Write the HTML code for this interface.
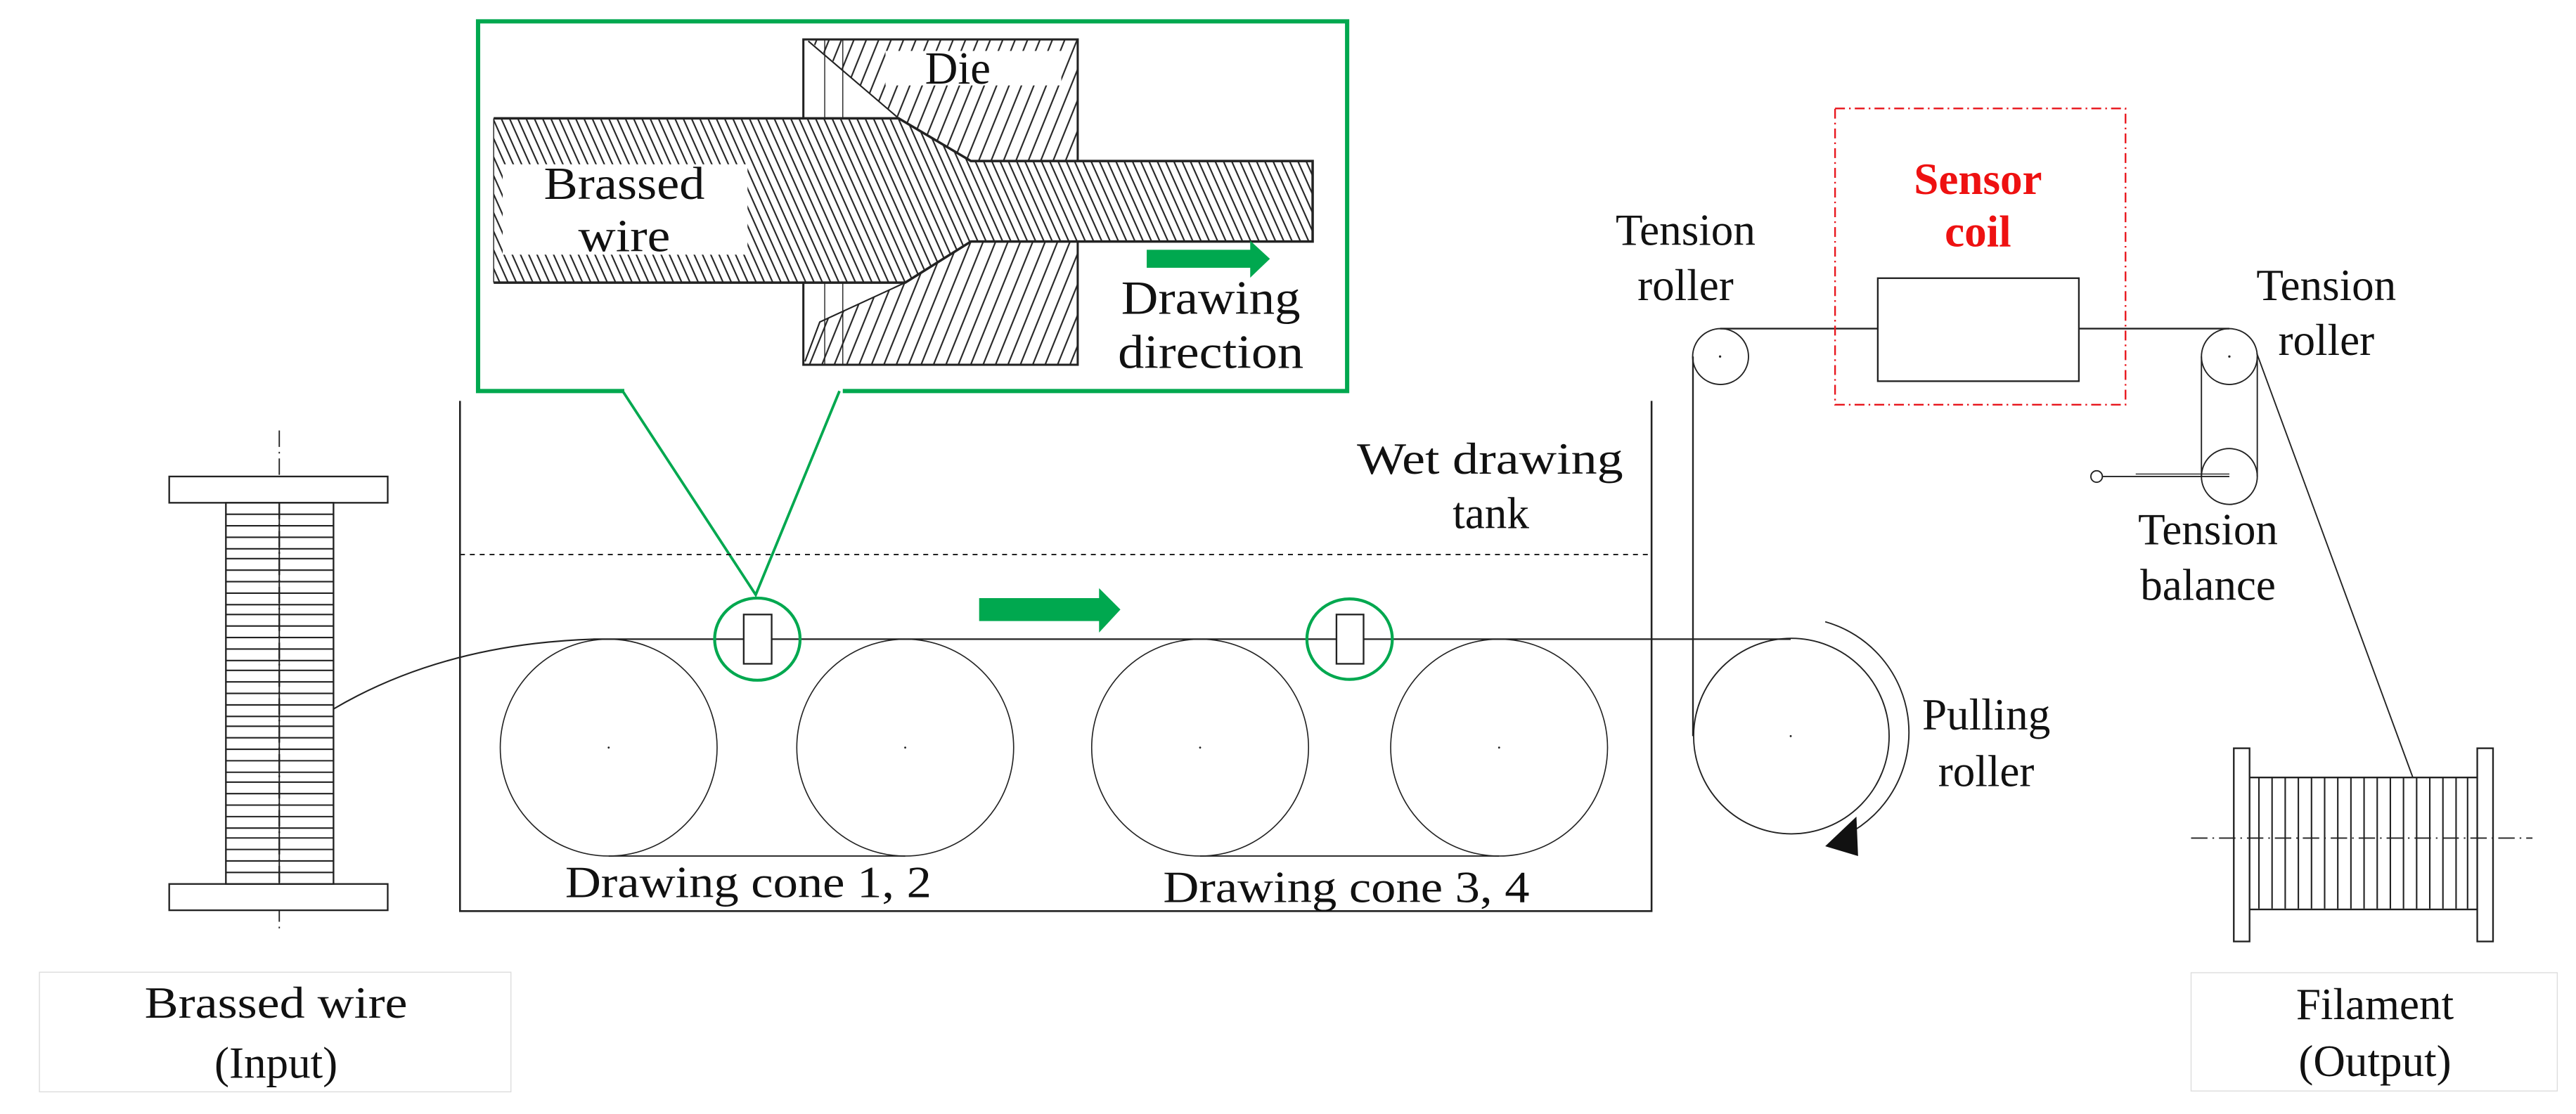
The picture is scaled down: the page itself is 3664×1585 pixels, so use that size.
<!DOCTYPE html>
<html><head><meta charset="utf-8"><style>
html,body{margin:0;padding:0;background:#fff;}
svg{display:block;}
text{font-family:"Liberation Serif",serif;fill:#111;}
</style></head><body>
<svg width="3664" height="1585" viewBox="0 0 1568 678" preserveAspectRatio="none" xmlns="http://www.w3.org/2000/svg">
<defs>
<pattern id="hw" patternUnits="userSpaceOnUse" width="4.6" height="10" patternTransform="rotate(-24)">
<line x1="1" y1="0" x2="1" y2="10" stroke="#222" stroke-width="0.9"/></pattern>
<pattern id="hd" patternUnits="userSpaceOnUse" width="7" height="10" patternTransform="rotate(22)">
<line x1="1" y1="0" x2="1" y2="10" stroke="#222" stroke-width="0.9"/></pattern>
</defs>
<g fill="none" stroke="#222" stroke-width="1">
<rect x="489" y="24" width="167" height="198" stroke-width="1.3"/>
<line x1="502" y1="24" x2="502" y2="222" stroke-width="0.6"/>
<line x1="513" y1="24" x2="513" y2="222" stroke-width="0.6"/>
<polygon points="492,24 656,24 656,98 591,98 547,72" fill="url(#hd)" stroke="none"/>
<polygon points="591,147 656,147 656,222 490,222 499,196 551,172" fill="url(#hd)" stroke="none"/>
<polyline points="492,25 547,72 591,98" stroke-width="0.9"/>
<polyline points="591,147 551,172 499,196 490,220" stroke-width="0.9"/>
<polygon points="300.5,72 547,72 591,98 799,98 799,147 591,147 551,172 300.5,172" fill="#fff" stroke="none"/>
<polygon points="300.5,72 547,72 591,98 799,98 799,147 591,147 551,172 300.5,172" fill="url(#hw)" stroke="none"/>
<polyline points="300.5,72 547,72 591,98 799,98 799,147 591,147 551,172 300.5,172" stroke-width="1.5"/>
<line x1="300.5" y1="72" x2="300.5" y2="172" stroke-width="0.6"/>
</g>
<rect x="539" y="31" width="107" height="21" fill="#fff"/>
<text x="583" y="51" font-size="28" text-anchor="middle" textLength="40" lengthAdjust="spacingAndGlyphs">Die</text>
<rect x="306" y="100" width="149" height="55" fill="#fff"/>
<text x="380" y="121" font-size="28" text-anchor="middle" textLength="98" lengthAdjust="spacingAndGlyphs">Brassed</text>
<text x="380" y="153" font-size="28" text-anchor="middle" textLength="56" lengthAdjust="spacingAndGlyphs">wire</text>
<polygon points="698,152 761,152 761,146.5 773,157.5 761,169 761,163 698,163" fill="#00a84f"/>
<text x="737" y="191" font-size="29" text-anchor="middle" textLength="109" lengthAdjust="spacingAndGlyphs">Drawing</text>
<text x="737" y="224" font-size="29" text-anchor="middle" textLength="113" lengthAdjust="spacingAndGlyphs">direction</text>
<polyline points="380,238 291,238 291,13 820,13 820,238 513,238" fill="none" stroke="#00a84f" stroke-width="2.6"/>
<polyline points="379,238 460,362 511,238" fill="none" stroke="#00a84f" stroke-width="1.6"/>

<g fill="none" stroke="#222" stroke-width="1">
<line x1="170" y1="262" x2="170" y2="568" stroke-width="0.8" stroke-dasharray="10,3,1,3"/>
<rect x="103" y="290" width="133" height="16" fill="#fff"/>
<rect x="103" y="538" width="133" height="16" fill="#fff"/>
<rect x="137.5" y="306" width="65.5" height="232"/>
<path d="M137.5,313h65.5M137.5,320h65.5M137.5,327h65.5M137.5,334h65.5M137.5,340h65.5M137.5,347h65.5M137.5,354h65.5M137.5,361h65.5M137.5,368h65.5M137.5,374h65.5M137.5,381h65.5M137.5,388h65.5M137.5,395h65.5M137.5,402h65.5M137.5,408h65.5M137.5,415h65.5M137.5,422h65.5M137.5,429h65.5M137.5,436h65.5M137.5,442h65.5M137.5,449h65.5M137.5,456h65.5M137.5,463h65.5M137.5,470h65.5M137.5,476h65.5M137.5,483h65.5M137.5,490h65.5M137.5,497h65.5M137.5,504h65.5M137.5,510h65.5M137.5,517h65.5M137.5,524h65.5M137.5,531h65.5" stroke-width="0.9"/>
<line x1="170" y1="306" x2="170" y2="538" stroke-width="1" stroke-dasharray="10,3,1,3"/>
<polyline points="280,244 280,554.5 1005.3,554.5 1005.3,244" stroke-width="1.1"/>
<line x1="280" y1="337.5" x2="1005" y2="337.5" stroke-width="0.9" stroke-dasharray="3,3"/>
<path d="M203,431.5 Q270,392 361,389" stroke-width="0.9"/>
<line x1="361" y1="389" x2="1090" y2="389"/>
<circle cx="370.5" cy="455" r="66" stroke-width="0.7"/>
<circle cx="551" cy="455" r="66" stroke-width="0.7"/>
<circle cx="730.5" cy="455" r="66" stroke-width="0.7"/>
<circle cx="912.5" cy="455" r="66" stroke-width="0.7"/>
<line x1="370.5" y1="521" x2="551" y2="521" stroke-width="0.8"/>
<line x1="730.5" y1="521" x2="912.5" y2="521" stroke-width="0.8"/>
<rect x="452.7" y="374" width="17" height="30" fill="#fff"/>
<rect x="813.5" y="374" width="16.5" height="30" fill="#fff"/>
<circle cx="1090.4" cy="448" r="59.5" stroke-width="0.8"/>
<line x1="1030.5" y1="217" x2="1030.5" y2="448"/>
<circle cx="1047.3" cy="217" r="17" stroke-width="0.8"/>
<line x1="1047" y1="200" x2="1143" y2="200"/>
<rect x="1143" y="169.3" width="122.4" height="62.7"/>
<line x1="1265" y1="200" x2="1357" y2="200"/>
<circle cx="1357" cy="217" r="17" stroke-width="0.8"/>
<circle cx="1357" cy="290" r="17" stroke-width="0.8"/>
<line x1="1340" y1="217" x2="1340" y2="290" stroke-width="0.8"/>
<line x1="1374" y1="217" x2="1374" y2="290" stroke-width="0.8"/>
<circle cx="1276.2" cy="290" r="3.5" stroke-width="0.8"/>
<line x1="1280" y1="290" x2="1357" y2="290" stroke-width="0.8"/>
<line x1="1300" y1="288.5" x2="1357" y2="288.5" stroke-width="0.6"/>
<line x1="1373.7" y1="215" x2="1468.7" y2="473.2" stroke-width="0.8"/>
<path d="M1111,378.4 A70,70 0 0 1 1124,508" stroke-width="0.8"/>
<rect x="1359.7" y="455.4" width="9.6" height="117.6"/>
<rect x="1507.9" y="455.4" width="9.6" height="117.6"/>
<line x1="1369.3" y1="473.2" x2="1507.9" y2="473.2"/>
<line x1="1369.3" y1="553.5" x2="1507.9" y2="553.5"/>
<path d="M1375,473v80M1383,473v80M1391,473v80M1399,473v80M1407,473v80M1415,473v80M1423,473v80M1431,473v80M1439,473v80M1447,473v80M1455,473v80M1463,473v80M1471,473v80M1479,473v80M1487,473v80M1495,473v80M1502,473v80" stroke-width="0.9"/>
<line x1="1333.7" y1="510.1" x2="1541.5" y2="510.1" stroke-width="0.8" stroke-dasharray="10,3,1,3"/>
</g>
<polygon points="1111,515 1130,497 1131,521" fill="#111"/>
<g fill="#222"><circle cx="370.5" cy="455" r="0.6"/><circle cx="551" cy="455" r="0.6"/><circle cx="730.5" cy="455" r="0.6"/><circle cx="912.5" cy="455" r="0.6"/><circle cx="1090" cy="448" r="0.6"/><circle cx="1047" cy="217" r="0.7"/><circle cx="1357" cy="217" r="0.7"/></g>
<g fill="none" stroke="#00a84f" stroke-width="1.8">
<ellipse cx="461" cy="389" rx="26" ry="25"/>
<ellipse cx="821.5" cy="389" rx="26" ry="24.5"/>
</g>
<polygon points="596,364 669,364 669,358 682,371 669,385 669,378 596,378" fill="#00a84f"/>
<rect x="1117" y="66" width="176.8" height="180.3" fill="none" stroke="#e8141b" stroke-width="1" stroke-dasharray="6,2.5,1,2.5"/>
<text x="1204" y="118" font-size="27" font-weight="bold" text-anchor="middle" style="fill:#ee1111">Sensor</text>
<text x="1204" y="150" font-size="27" font-weight="bold" text-anchor="middle" style="fill:#ee1111">coil</text>
<g font-size="27" text-anchor="middle">
<text x="1026" y="149">Tension</text>
<text x="1026" y="182.6">roller</text>
<text x="1416" y="182.6">Tension</text>
<text x="1416" y="216">roller</text>
<text x="1344" y="331.4">Tension</text>
<text x="1344" y="365">balance</text>
<text x="1209" y="444">Pulling</text>
<text x="1209" y="478.5">roller</text>
<text x="907" y="288.3" textLength="162" lengthAdjust="spacingAndGlyphs">Wet drawing</text>
<text x="907.5" y="321.5">tank</text>
<text x="455.5" y="546" textLength="223" lengthAdjust="spacingAndGlyphs">Drawing cone 1, 2</text>
<text x="819.5" y="549" textLength="223" lengthAdjust="spacingAndGlyphs">Drawing cone 3, 4</text>
</g>
<rect x="24" y="591.7" width="287" height="72.8" fill="#fff" stroke="#ddd" stroke-width="0.6"/>
<rect x="1333.7" y="592" width="222.9" height="72" fill="#fff" stroke="#ddd" stroke-width="0.6"/>
<g font-size="27" text-anchor="middle">
<text x="168" y="619.4" textLength="160" lengthAdjust="spacingAndGlyphs">Brassed wire</text>
<text x="168" y="656">(Input)</text>
<text x="1445.6" y="620.3">Filament</text>
<text x="1445.6" y="654.8">(Output)</text>
</g>
</svg>
</body></html>
